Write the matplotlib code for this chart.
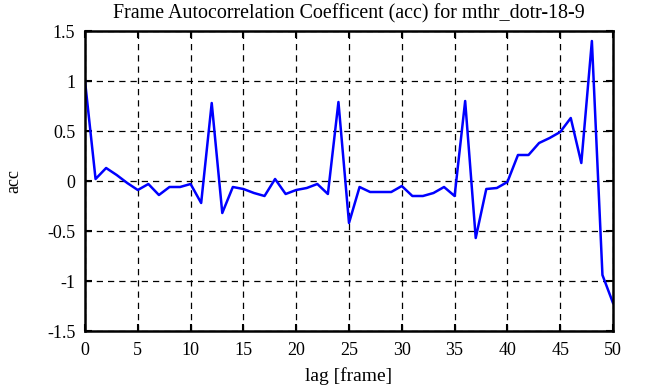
import numpy as np
import matplotlib
matplotlib.use("Agg")
import matplotlib.pyplot as plt

# lag values and autocorrelation coefficients
lags = np.arange(0, 51)
acc = [1.00, 0.02, 0.13, 0.06, -0.02, -0.09, -0.03, -0.14, -0.06, -0.06,
       -0.03, -0.22, 0.78, -0.32, -0.06, -0.08, -0.12, -0.15, 0.02, -0.13,
       -0.09, -0.07, -0.03, -0.13, 0.79, -0.42, -0.06, -0.11, -0.11, -0.11,
       -0.05, -0.15, -0.15, -0.12, -0.06, -0.15, 0.80, -0.57, -0.08, -0.07,
       -0.01, 0.26, 0.26, 0.38, 0.43, 0.49, 0.63, 0.18, 1.40, -0.94,
       -1.22]

xticks = [0, 5, 10, 15, 20, 25, 30, 35, 40, 45, 50]
yticks = [-1.5, -1, -0.5, 0, 0.5, 1, 1.5]
ytick_labels = ['-1.5', '-1', '-0.5', '0', '0.5', '1', '1.5']

plt.rcParams['font.family'] = ['Liberation Serif', 'DejaVu Serif']
plt.rcParams['font.size'] = 13

fig = plt.figure(figsize=(6.46, 3.87), dpi=100)
ax = fig.add_axes([85 / 646, 1 - 331 / 387, 528 / 646, 300 / 387])

ax.plot(lags, acc, color='#0000ff', linewidth=1.8)

ax.set_xlim(0, 50)
ax.set_ylim(-1.5, 1.5)
ax.set_xticks(xticks)
ax.set_yticks(yticks)
ax.set_yticklabels(ytick_labels)
ax.grid(True, linestyle=(0, (5, 4)), color='black', linewidth=0.9)
ax.tick_params(direction='in', top=True, right=True, length=5, width=1.5)
ax.tick_params(axis='x', pad=8)
ax.tick_params(axis='y', pad=7)
for sp in ax.spines.values():
    sp.set_linewidth(1.8)

ax.set_xlabel('lag [frame]', fontsize=14, labelpad=6)
ax.set_ylabel('acc', labelpad=18)
ax.set_title('Frame Autocorrelation Coefficent (acc) for mthr_dotr-18-9',
             fontsize=14.4, pad=9)

fig.savefig('out.png', dpi=100)
